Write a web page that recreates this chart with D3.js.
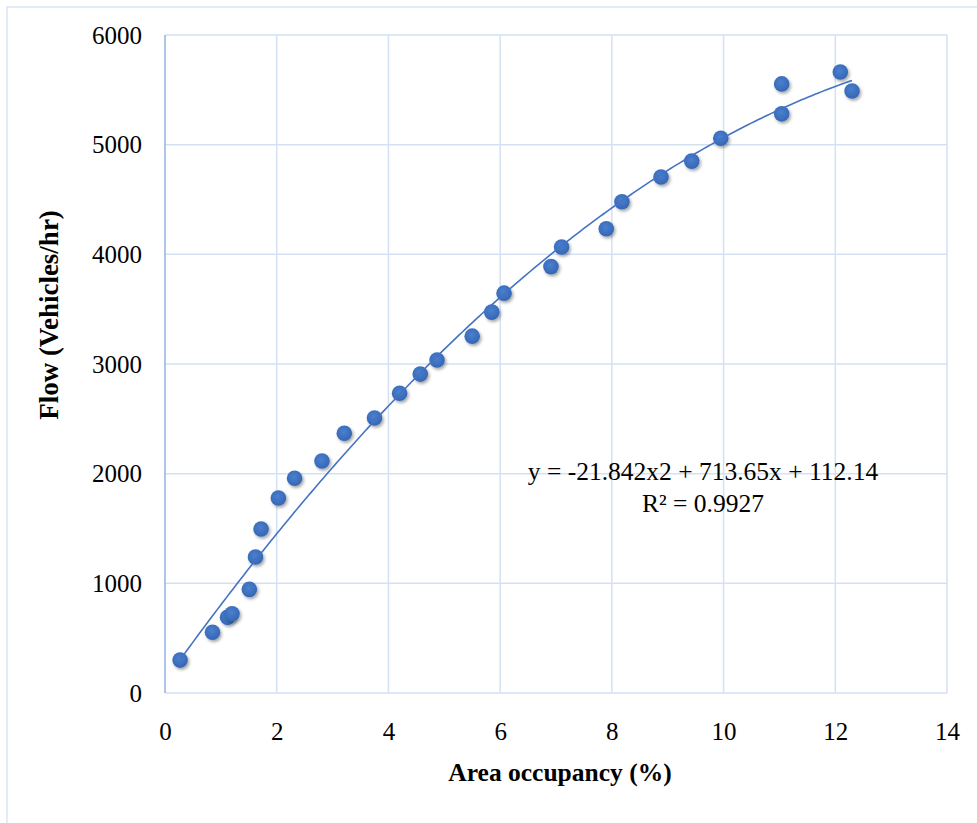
<!DOCTYPE html>
<html><head><meta charset="utf-8">
<script src="https://cdn.jsdelivr.net/npm/d3@7"></script>
<style>body{margin:0;background:#fff}svg{display:block}text{font-family:"Liberation Serif","Times New Roman",serif;fill:#000}</style>
</head><body>
<script>
const occupancy = [0.27,0.85,1.12,1.2,1.51,1.62,1.72,2.03,2.32,2.81,3.21,3.75,4.2,4.57,4.87,5.5,5.85,6.07,6.91,7.1,7.9,8.18,8.88,9.43,9.95,11.04,11.04,12.09,12.3];
const flow =      [300,554,690,722,945,1240,1495,1778,1958,2115,2368,2508,2733,2908,3036,3254,3473,3646,3888,4067,4233,4480,4705,4850,5058,5281,5554,5662,5490];
const xTicks = [0,2,4,6,8,10,12,14];
const yTicks = [0,1000,2000,3000,4000,5000,6000];
const coef = {a:-21.842, b:713.65, c:112.14};
const eqText = "y = -21.842x2 + 713.65x + 112.14";
const r2Text = "R² = 0.9927";

const W=977,H=823;
const svg=d3.select("body").append("svg").attr("width",W).attr("height",H);
const defs=svg.append("defs");
const f=defs.append("filter").attr("id","sh").attr("x","-50%").attr("y","-50%").attr("width","200%").attr("height","200%");
f.append("feGaussianBlur").attr("in","SourceGraphic").attr("stdDeviation",0.6).attr("result","b");
f.append("feDropShadow").attr("in","b").attr("dx",1.5).attr("dy",2).attr("stdDeviation",1.6).attr("flood-color","#000").attr("flood-opacity",0.35);
const g=defs.append("radialGradient").attr("id","dot").attr("cx","45%").attr("cy","40%").attr("r","60%");
g.append("stop").attr("offset","0%").attr("stop-color","#4a80cf");
g.append("stop").attr("offset","100%").attr("stop-color","#3566b3");

// outer border
svg.append("path").attr("d",`M7,${H} L7,7 L${W},7`).attr("fill","none").attr("stroke","#d9e5f4").attr("stroke-width",1.5);

const x=d3.scaleLinear().domain([0,14]).range([165,947]);
const y=d3.scaleLinear().domain([0,6000]).range([693,35]);

const grid="#d3e1f3";
svg.append("g").selectAll("line").data(xTicks.slice(1)).join("line")
  .attr("x1",d=>x(d)).attr("x2",d=>x(d)).attr("y1",y(6000)).attr("y2",y(0)).attr("stroke",grid).attr("stroke-width",1.5);
svg.append("g").selectAll("line").data(yTicks).join("line")
  .attr("x1",x(0)).attr("x2",x(14)).attr("y1",d=>y(d)).attr("y2",d=>y(d)).attr("stroke",grid).attr("stroke-width",1.5);
// left axis line
svg.append("line").attr("x1",x(0)).attr("x2",x(0)).attr("y1",y(6000)).attr("y2",y(0)).attr("stroke","#8fb3e0").attr("stroke-width",1.5);

// axes labels via d3 axes
const ya=svg.append("g").attr("transform",`translate(${x(0)-23},0)`).call(d3.axisLeft(y).tickValues(yTicks).tickSize(0).tickPadding(0).tickFormat(d3.format("d")));
const xa=svg.append("g").attr("transform",`translate(0,${y(0)+26})`).call(d3.axisBottom(x).tickValues(xTicks).tickSize(0).tickPadding(0).tickFormat(d3.format("d")));
[ya,xa].forEach(a=>{a.select(".domain").remove();a.selectAll("text").attr("font-size",25).attr("font-family",null).style("font-family",'"Liberation Serif",serif').attr("fill","#000");});
xa.selectAll("text").attr("dy","0.85em");

// points
svg.append("g").selectAll("circle").data(occupancy.map((d,i)=>[d,flow[i]])).join("circle")
  .attr("cx",d=>x(d[0])).attr("cy",d=>y(d[1])).attr("r",7.8).attr("fill","url(#dot)").attr("filter","url(#sh)");

// trendline
const xs=d3.range(0,201).map(i=>d3.min(occupancy)+(d3.max(occupancy)-d3.min(occupancy))*i/200);
svg.append("path").attr("d",d3.line().x(d=>x(d)).y(d=>y(coef.a*d*d+coef.b*d+coef.c))(xs))
  .attr("fill","none").attr("stroke","#4472c4").attr("stroke-width",1.6);

// equation
svg.append("text").attr("x",703).attr("y",480).attr("text-anchor","middle").attr("font-size",25.5).text(eqText);
svg.append("text").attr("x",703).attr("y",512).attr("text-anchor","middle").attr("font-size",25.5).text(r2Text);

// titles
svg.append("text").attr("x",560).attr("y",781).attr("text-anchor","middle").attr("font-size",25.5).attr("font-weight","bold").text("Area occupancy (%)");
svg.append("text").attr("transform","translate(58,315) rotate(-90)").attr("text-anchor","middle").attr("font-size",27).attr("font-weight","bold").text("Flow (Vehicles/hr)");
</script>
</body></html>
